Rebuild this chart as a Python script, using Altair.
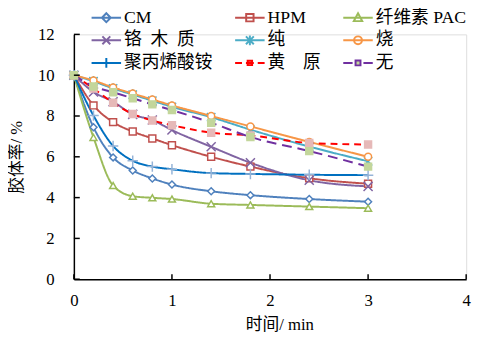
import altair as alt
import pandas as pd

times = [0, 0.2, 0.4, 0.6, 0.8, 1.0, 1.4, 1.8, 2.4, 3.0]
series = ["CM", "HPM", "纤维素 PAC", "铬\u2002木\u2002质", "纯", "烧", "聚丙烯酸铵", "黄\u3000原", "无"]

cm = [10, 7.45, 5.97, 5.33, 4.94, 4.64, 4.31, 4.12, 3.93, 3.80]
hpm = [10, 8.52, 7.70, 7.24, 6.90, 6.57, 6.00, 5.52, 4.95, 4.68]
pac = [10, 6.95, 4.59, 4.07, 3.99, 3.93, 3.70, 3.64, 3.56, 3.48]
lignin = [10, 9.18, 8.70, 8.08, 7.80, 7.31, 6.49, 5.71, 4.85, 4.55]
soda = [10, 9.70, 9.35, 9.05, 8.75, 8.45, 7.94, 7.33, 6.50, 5.78]
caustic = [10, 9.74, 9.40, 9.10, 8.81, 8.52, 8.00, 7.49, 6.73, 6.00]
paa = [10, 8.02, 6.53, 5.81, 5.52, 5.39, 5.20, 5.16, 5.12, 5.10]
xanthan = [10, 9.35, 8.65, 8.10, 7.78, 7.55, 7.18, 7.05, 6.68, 6.60]
none_ = [10, 9.45, 9.16, 8.87, 8.57, 8.29, 7.67, 6.97, 6.28, 5.52]
values = [cm, hpm, pac, lignin, soda, caustic, paa, xanthan, none_]

x_ticks = [0, 1, 2, 3, 4]
y_ticks = [0, 2, 4, 6, 8, 10, 12]

line_colors = ["#4F81BD", "#C0504D", "#9BBB59", "#8064A2", "#4BACC6", "#F79646", "#0070C0", "#FF0000", "#7030A0"]
marker_strokes = ["#4F81BD", "#C0504D", "#9BBB59", "#8064A2", "#4BACC6", "#F79646", "#95B3D7", "#E6B9B8", "#C3D69B"]
marker_fills = ["white", "white", "white", "white", "white", "white", "white", "#E6B9B8", "#C3D69B"]
dashes = [[1, 0]] * 7 + [[7, 5], [10, 6]]

X_PATH = "M-1.3,-1.3L1.3,1.3M-1.3,1.3L1.3,-1.3"
STAR_PATH = "M-1.2,-1.2L1.2,1.2M-1.2,1.2L1.2,-1.2M0,-1.5V1.5"
PLUS_PATH = "M-1.5,0H1.5M0,-1.5V1.5"
point_shapes = ["diamond", "square", "triangle-up", X_PATH, STAR_PATH, "circle", PLUS_PATH, "square", "square"]

L = "M-3,0H3"
leg_shapes = [
    L + "M0,-0.9L0.9,0L0,0.9L-0.9,0Z",
    L + "M-0.75,-0.75H0.75V0.75H-0.75Z",
    L + "M0,-0.9L0.85,0.7H-0.85Z",
    L + "M-0.8,-0.8L0.8,0.8M-0.8,0.8L0.8,-0.8",
    L + "M-0.8,-0.8L0.8,0.8M-0.8,0.8L0.8,-0.8M0,-1V1",
    L + "M0.8,0A0.8,0.8 0 1,1 -0.8,0A0.8,0.8 0 1,1 0.8,0Z",
    L + "M-1,0H1M0,-1V1",
    "M-3,0H-1.6M-0.8,0H0.8M1.6,0H3M-0.45,-0.45H0.45V0.45H-0.45Z",
    "M-3,0H-1.1M1.1,0H3M-0.5,-0.5H0.5V0.5H-0.5Z",
]

rows = []
for s, vals in zip(series, values):
    for t, v in zip(times, vals):
        rows.append({"series": s, "t": t, "v": v})
df = pd.DataFrame(rows)

FONT = "Liberation Serif, Noto Sans CJK SC"

xscale = alt.Scale(domain=[0, 4], nice=False)
yscale = alt.Scale(domain=[0, 12], nice=False)

x_enc = alt.X("t:Q", scale=xscale,
              axis=alt.Axis(values=x_ticks, format="d", title="时间/ min", labelFontSize=17, titleFontSize=17,
                            labelPadding=14, titlePadding=8, ticks=False, grid=False, labelFlush=False,
                            domainColor="black", domainWidth=1.5, labelFont=FONT, titleFont=FONT,
                            titleFontWeight="normal", labelColor="black", titleColor="black",
                            titleX=209))
y_enc = alt.Y("v:Q", scale=yscale,
              axis=alt.Axis(values=y_ticks, format="d", title="胶体率/ %", labelFontSize=17, titleFontSize=17,
                            labelPadding=20, titlePadding=12, ticks=False, grid=False, labelFlush=False,
                            domainColor="black", domainWidth=1.5, labelFont=FONT, titleFont=FONT,
                            titleFontWeight="normal", labelColor="black", titleColor="black"))

base = alt.Chart(df)

lines = base.mark_line(interpolate="monotone", strokeWidth=2).encode(
    x=x_enc, y=y_enc,
    stroke=alt.Stroke("series:N", scale=alt.Scale(domain=series, range=line_colors), legend=None),
    strokeDash=alt.StrokeDash("series:N", scale=alt.Scale(domain=series, range=dashes), legend=None),
    detail="series:N",
)

points = base.mark_point(filled=True, size=50, strokeWidth=1.5, opacity=1).encode(
    x="t:Q", y="v:Q",
    shape=alt.Shape("series:N", scale=alt.Scale(domain=series, range=point_shapes), legend=None),
    stroke=alt.Stroke("series:N", scale=alt.Scale(domain=series, range=marker_strokes), legend=None),
    fill=alt.Fill("series:N", scale=alt.Scale(domain=series, range=marker_fills), legend=None),
)

legend = alt.Legend(title=None, orient="none", legendX=24, legendY=-26, columns=3, direction="horizontal",
                    columnPadding=19, rowPadding=5, labelFont=FONT, labelFontSize=18,
                    labelColor="black", symbolSize=100, symbolStrokeWidth=2, labelOffset=9,
                    symbolOpacity=1, gridAlign="each", labelLimit=200)

leg_layer = base.transform_filter("false").mark_point(filled=False, opacity=1).encode(
    x="t:Q", y="v:Q",
    shape=alt.Shape("series:N", scale=alt.Scale(domain=series, range=leg_shapes), legend=legend),
    stroke=alt.Stroke("series:N", scale=alt.Scale(domain=series, range=line_colors), legend=legend),
    fill=alt.Fill("series:N", scale=alt.Scale(domain=series, range=marker_fills), legend=legend),
)

xt = pd.DataFrame({"t": x_ticks})
yt = pd.DataFrame({"v": y_ticks})
xtick_rules = alt.Chart(xt).mark_rule(color="black", strokeWidth=1.5).encode(
    x="t:Q", y=alt.value(249), y2=alt.value(244))
ytick_rules = alt.Chart(yt).mark_rule(color="black", strokeWidth=1.5).encode(
    y="v:Q", x=alt.value(0), x2=alt.value(6))

chart = alt.layer(lines, points, leg_layer, xtick_rules, ytick_rules).resolve_scale(
    stroke="independent", shape="independent", fill="independent", strokeDash="independent"
).properties(
    width=399, height=249,
    autosize=alt.AutoSizeParams(type="none"),
    padding={"left": 67, "top": 24, "right": 10, "bottom": 60},
).configure_view(stroke=None).configure(background="white")

chart.save("out.html", embed_options={"renderer": "svg", "actions": False})
